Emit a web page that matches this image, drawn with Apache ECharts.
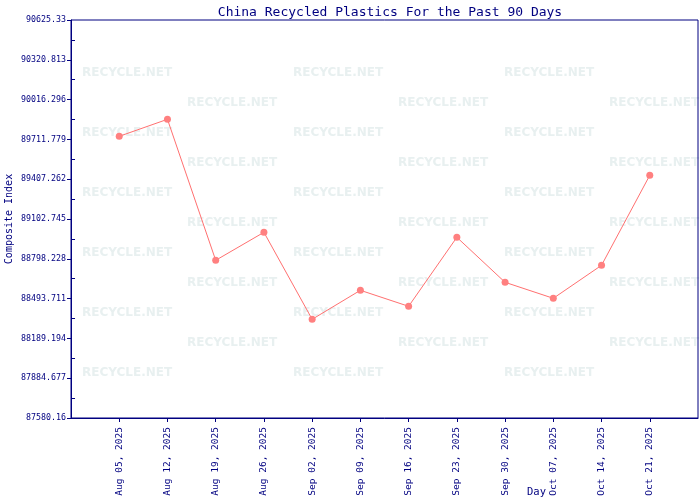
<!DOCTYPE html>
<html>
<head>
<meta charset="utf-8">
<script src="https://cdn.jsdelivr.net/npm/echarts@6/dist/echarts.min.js"></script>
<style>html,body{margin:0;padding:0;background:#fff}#c{width:700px;height:500px}</style>
</head>
<body>
<div id="c"></div>
<script>
var days = ['Aug 05, 2025','Aug 12, 2025','Aug 19, 2025','Aug 26, 2025','Sep 02, 2025','Sep 09, 2025','Sep 16, 2025','Sep 23, 2025','Sep 30, 2025','Oct 07, 2025','Oct 14, 2025','Oct 21, 2025'];
var values = [89735.5, 89865.5, 88786.7, 89000.9, 88335.3, 88557.2, 88434.8, 88962.7, 88618.4, 88496.0, 88748.5, 89437.1];
var yTickLabels = ['87580.16','87884.677','88189.194','88493.711','88798.228','89102.745','89407.262','89711.779','90016.296','90320.813','90625.33'];

var NAVY = '#000080';
var yTicks = yTickLabels.map(parseFloat);
var yMin = yTicks[0], yMax = yTicks[yTicks.length - 1];
var yMinor = [];
for (var i = 0; i < yTicks.length - 1; i++) yMinor.push((yTicks[i] + yTicks[i + 1]) / 2);
var xPos = days.map(function (d, i) { return i + 1; });
var seriesData = values.map(function (v, i) { return [i + 1, v]; });

// watermark
var graphics = [];
var rowsA = [73,133,193,253,313,373], colsA = [82,293,504];
var rowsB = [103,163,223,283,343], colsB = [187,398,609];
function addWm(rows, cols) {
  rows.forEach(function (y) { cols.forEach(function (x) {
    graphics.push({type:'text', left:x, top:y-6, z:-10, silent:true,
      style:{text:'RECYCLE.NET', fill:'#e8f0f0', font:'bold 12px "DejaVu Sans"'}});
  }); });
}
addWm(rowsA, colsA); addWm(rowsB, colsB);

var chart = echarts.init(document.getElementById('c'), null, {renderer:'canvas'});
chart.setOption({
  animation: false,
  backgroundColor: '#fff',
  title: {text:'China Recycled Plastics For the Past 90 Days', left: 385, textAlign:'center', top: 1,
    textStyle:{color:NAVY, fontFamily:'DejaVu Sans Mono', fontSize:13, fontWeight:'normal'}},
  graphic: graphics,
  grid: {left:71, right:2, top:20, bottom:82, containLabel:false, outerBoundsMode:'none',
    show:true, borderColor:NAVY, borderWidth:1, backgroundColor:'transparent'},
  xAxis: {
    type:'value', min:0, max:13,
    name:'Day', nameLocation:'middle', nameGap:69, nameMoveOverlap:false,
    nameTextStyle:{color:NAVY, fontFamily:'DejaVu Sans Mono', fontSize:10.5, padding:[0,0,0,304]},
    axisLine:{lineStyle:{color:NAVY}},
    axisTick:{length:4, lineStyle:{color:NAVY}, customValues: xPos},
    splitLine:{show:false},
    axisLabel:{customValues: xPos, rotate:90, margin:9, color:NAVY, fontFamily:'DejaVu Sans Mono', fontSize:9.5,
      formatter:function (v) { return days[Math.round(v) - 1] || ''; }}
  },
  yAxis: [{
    type:'value', min:yMin, max:yMax,
    name:'Composite Index', nameLocation:'middle', nameGap:57, nameMoveOverlap:false,
    nameTextStyle:{color:NAVY, fontFamily:'DejaVu Sans Mono', fontSize:10},
    axisLine:{show:true, lineStyle:{color:NAVY}},
    axisTick:{show:true, length:4, lineStyle:{color:NAVY}, customValues: yTicks},
    splitLine:{show:false},
    axisLabel:{customValues: yTicks, margin:5, color:NAVY, fontFamily:'DejaVu Sans Mono', fontSize:8.3,
      formatter:function (v) {
        var best = 0; for (var k = 1; k < yTicks.length; k++) if (Math.abs(yTicks[k]-v) < Math.abs(yTicks[best]-v)) best = k;
        return yTickLabels[best];
      }}
  }, {
    type:'value', min:yMin, max:yMax, position:'left',
    axisLine:{show:false},
    axisTick:{show:true, inside:true, length:4, lineStyle:{color:NAVY}, customValues: yMinor},
    axisLabel:{show:false}, splitLine:{show:false}
  }],
  series: [{
    type:'line', data: seriesData, yAxisIndex:0,
    symbol:'circle', symbolSize:7, showSymbol:true,
    lineStyle:{color:'#ff7070', width:1},
    itemStyle:{color:'#ff8080'}
  }]
});
</script>
</body>
</html>
